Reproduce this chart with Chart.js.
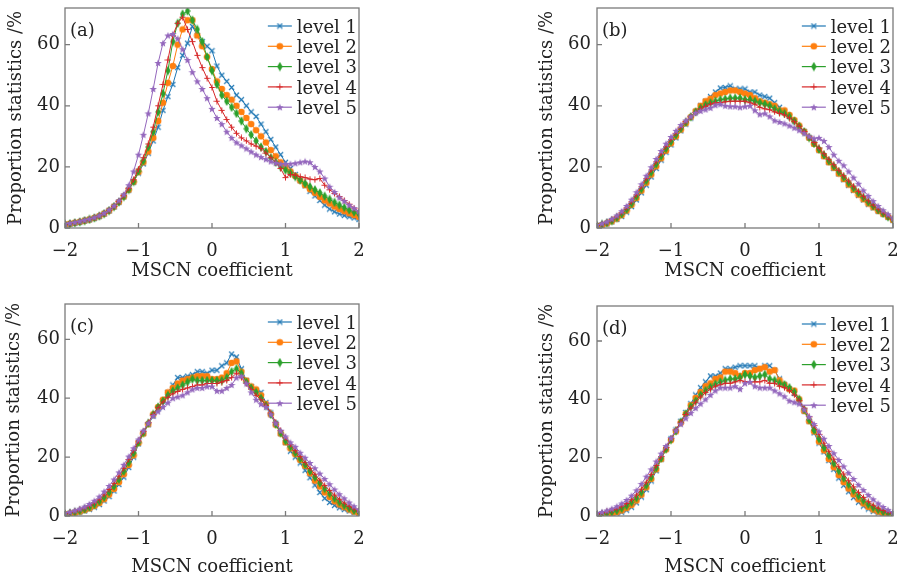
<!DOCTYPE html>
<html><head><meta charset="utf-8">
<script src="https://cdn.jsdelivr.net/npm/chart.js@4.4.1/dist/chart.umd.min.js"></script>
<style>
html,body{margin:0;padding:0;background:#fff;width:901px;height:581px;overflow:hidden}
canvas{position:absolute}
</style></head><body>
<canvas id="ca" width="370" height="290" style="left:0;top:0"></canvas>
<canvas id="cb" width="371" height="290" style="left:530px;top:0"></canvas>
<canvas id="cc" width="370" height="291" style="left:0;top:290px"></canvas>
<canvas id="cd" width="371" height="291" style="left:530px;top:290px"></canvas>
<script>
// ---- data ----
const mscnCoefficient = [-2,-1.933,-1.867,-1.8,-1.733,-1.667,-1.6,-1.533,-1.467,-1.4,-1.333,-1.267,-1.2,-1.133,-1.067,-1,
 -0.933,-0.867,-0.8,-0.733,-0.667,-0.6,-0.533,-0.467,-0.4,-0.333,-0.267,-0.2,-0.133,-0.067,0,
 0.067,0.133,0.2,0.267,0.333,0.4,0.467,0.533,0.6,0.667,0.733,0.8,0.867,0.933,1,
 1.067,1.133,1.2,1.267,1.333,1.4,1.467,1.533,1.6,1.667,1.733,1.8,1.867,1.933,2];
const levelLabels = ['level 1','level 2','level 3','level 4','level 5'];
const panelLabels = ['(a)','(b)','(c)','(d)'];
const xTicks = [-2,-1,0,1,2];
const yTicks = [0,20,40,60];
const xTitle = 'MSCN coefficient';
const yTitle = 'Proportion statistics /%';

// panel (a)
const a_level1 = [1.1,1.3,1.6,1.9,2.3,2.7,3.2,3.8,4.6,5.6,6.9,8.4,10.2,12.4,15.0,18.0,
 21,24.5,28.5,33,38.5,43,47,52.5,56.5,60.5,66,63,61,59.5,58,
 53,50,48,46,43.5,42,40,38,36.5,34,31.5,29,26.5,24,21.5,
 19.5,17.5,15.5,13.8,12,10.5,9,7.5,6.2,5.3,4.6,4.1,3.7,3.3,2.8];
const a_level2 = [1.2,1.4,1.7,2.0,2.4,2.8,3.3,3.9,4.7,5.7,7.0,8.5,10.3,12.5,15.1,18.3,
 21.5,25,29.5,35,41,47.5,53,60,65,68,68,63,59.5,56,52,
 48,45.5,43.5,42,40,38,36,34,32,30,28,25.5,23.5,21.5,20,
 18.5,17,15.5,14,12.7,11.5,10.2,9,8,7,6.2,5.5,4.8,4.2,3.6];
const a_level3 = [1.2,1.4,1.7,2.0,2.4,2.8,3.3,3.9,4.7,5.7,7.0,8.5,10.3,12.6,15.2,18.6,
 22,26.5,31.5,38,44,51.5,61,67,70,71,68,65,61,56,51.5,
 47,43.5,41.5,39.5,37.5,35,32.5,30.5,28.5,26.5,25,23,21.5,20,19,
 18,16.8,15.7,14.6,13.5,12.5,11.5,10.4,9.4,8.4,7.5,6.7,5.9,5.2,4.6];
const a_level4 = [1.3,1.5,1.8,2.1,2.5,2.9,3.4,4.0,4.8,5.8,7.1,8.7,10.6,13.0,15.8,19.3,
 23,27.5,33,40,47,55,63,67,69,65,61,56.5,52.5,49,46,
 41.5,38.5,35.5,33,31,29.5,28.5,27.5,26.8,26,24.5,23,21.5,19.5,16.5,
 17.5,17.3,16.8,16.5,16,15.8,16.2,14,12.5,11.3,10.3,9,7.8,6.5,5.4];
const a_level5 = [1.4,1.6,1.9,2.2,2.6,3.0,3.5,4.1,4.9,6.0,7.3,9.0,11.0,14.0,18.5,24.0,
 30.5,37.5,45.5,54,60.5,63,63.5,62,58.5,55,51,48,45.5,42.5,39,
 36,34,31.5,29.5,28,27,26,25,24,23.2,22.5,21.8,21.3,21,21,
 21,21.2,21.5,21.8,21.5,20,18.5,16.2,13.5,11.8,10,8.8,7.5,6.5,5.5];

// panel (b)
const b_level1 = [0.6,0.9,1.3,2.0,2.8,3.8,5.2,7.0,9.2,11.5,14.0,16.7,19.5,22.2,24.8,27.2,
 29.5,31.8,34,36,38,40,41.5,43,44.5,45.8,46,46.5,45.5,45.5,45.5,
 44.5,44.5,43.5,43,42.5,41,39.5,38,36.5,35,33,31.5,29.5,27.5,25.5,
 23.5,21.5,19.5,17.7,15.8,14,12.3,10.7,9.2,7.8,6.6,5.5,4.5,3.5,2.5];
const b_level2 = [0.7,1.0,1.5,2.2,3.1,4.2,5.7,7.6,9.8,12.2,14.8,17.5,20.2,22.8,25.3,27.7,
 30,32.2,34.3,36.3,38.2,40,41.5,42.3,43.5,44,44.5,45,45,44.5,44,
 43.5,42.5,41.5,41,40.5,40,38.5,38.5,37,35.3,33.5,31.5,29.5,27.5,25.5,
 23.5,21.5,19.7,17.8,16,14.2,12.5,10.9,9.4,8,6.8,5.6,4.6,3.6,2.6];
const b_level3 = [0.8,1.2,1.7,2.4,3.4,4.6,6.1,8.0,10.3,12.8,15.5,18.2,20.9,23.5,26,28.3,
 30.5,32.6,34.6,36.4,38,39.3,40.3,41,41.5,42,42.2,42.5,42.5,42.5,42,
 42,41.5,41,40.5,40,39,38.2,37.5,36.5,35,33.3,31.5,29.6,27.7,25.8,
 23.9,22,20.2,18.4,16.6,14.8,13.1,11.5,10,8.5,7.2,5.9,4.8,3.7,2.7];
const b_level4 = [0.9,1.3,1.9,2.7,3.7,5.0,6.6,8.6,10.9,13.5,16.2,19,21.7,24.3,26.7,29,
 31,33,34.8,36.4,37.8,39,39.8,40.5,41,41,41.3,41.5,41.5,41.5,41.5,
 41,40.5,39.5,39,38.7,38,37.5,37,36,34.8,33.3,31.6,29.8,28,26.2,
 24.3,22.5,20.7,18.9,17.1,15.4,13.7,12,10.4,8.9,7.5,6.2,5,3.9,2.8];
const b_level5 = [1.0,1.5,2.1,3.0,4.1,5.5,7.2,9.3,11.7,14.3,17.1,19.9,22.6,25.2,27.6,29.8,
 31.8,33.7,35.2,36.5,37.7,38.3,38.8,39.3,40.2,40.5,40,39.8,39.8,39.5,39.8,
 40,38.5,37.2,37.5,36.5,35.2,34.7,34.2,33.5,32.8,32,31,30,29.3,29.5,
 28.5,26.5,24,22,20.5,18.5,16.5,14.5,12.3,10.5,8.8,7.2,5.8,4.5,3.2];

// panel (c)
const c_level1 = [0.5,0.7,1.0,1.3,1.7,2.3,3.0,3.9,5.1,6.6,8.5,10.7,13.2,16.5,20,24.5,
 28,31,34,36.5,39,42,44.5,47,47,47.5,48,49,49,48.5,49.5,
 49.5,51,52,55,54,50,46,44,42.5,42,38.5,35,31.5,28,25,
 22,20,18,15.5,13,10.5,8,6,4.6,3.6,2.8,2.2,1.7,1.2,0.8];
const c_level2 = [0.6,0.8,1.1,1.5,2.0,2.6,3.4,4.4,5.7,7.3,9.2,11.5,14.2,17.3,20.6,24.8,
 28,31.2,34.5,37,39.5,42,43.5,45,46,46.5,47,47.5,47.5,47.5,46.5,
 46.5,47,48.5,52,52.5,49,46,44,43,41,38,34.5,31,28,25,
 23,21,19,17,14.5,12,10,8,6.4,5,3.9,3,2.2,1.5,1.0];
const c_level3 = [0.7,1.0,1.3,1.8,2.3,3.0,3.9,5.0,6.4,8.1,10.1,12.5,15.2,18.2,21.4,25,
 28.3,31.5,34.5,37,39,41,42.5,43.5,44.5,45.5,46.5,46,46,46,46,
 46,46,47,49,50,48.5,45.5,43.5,42,40,37.5,34.5,31.2,28.2,25.5,
 23.5,21.5,19.5,17.5,15.3,13.2,11.2,9.3,7.6,6,4.7,3.6,2.7,1.9,1.3];
const c_level4 = [0.9,1.2,1.6,2.1,2.7,3.5,4.5,5.7,7.2,9.0,11.1,13.5,16.2,19.2,22.3,25.5,
 28.7,31.7,34.5,36.8,38.7,40.3,41.5,42.3,43,43.5,44,44.5,44.5,45,45,
 45,45.5,46,47,48.5,47,45,43,41,39.5,37.5,35,31.8,29,26.5,
 24.3,22.2,20.2,18.2,16.2,14.2,12.2,10.4,8.7,7.1,5.7,4.4,3.3,2.4,1.6];
const c_level5 = [1.0,1.4,1.9,2.5,3.2,4.1,5.2,6.6,8.3,10.2,12.4,14.8,17.4,20.2,23,26,
 29,31.5,34,35.5,37,38.5,40,40.5,41,42,43,43.5,43.5,44,44,
 42.5,42.5,43.5,44.5,47,47.5,45,42,39.5,38,37,34.5,31.5,29,27,
 25,23.5,21.5,19.8,18,16.2,14.4,12.6,10.8,9,7.4,6,4.6,3.3,2.1];

// panel (d)
const d_level1 = [0.2,0.3,0.4,0.6,0.9,1.3,2.0,3.0,4.5,6.5,9.0,12.0,15.5,19.5,23,26.5,
 29.5,32.5,35.5,38.5,41.5,44,46,48,48,49,50.5,50.5,51,51.5,51.5,
 51.5,51.5,50.5,51.5,51.5,50,47,45,43.5,42,39,36,32.5,28.5,25,
 22,19,16,13,10.5,8.3,6.3,4.7,3.4,2.4,1.6,1.0,0.6,0.4,0.2];
const d_level2 = [0.3,0.4,0.6,0.9,1.3,1.9,2.7,3.8,5.3,7.3,9.8,12.7,16,19.5,22.8,26,
 29,32,35,38,40.5,42.5,44.5,45.5,47,47.5,49.5,49.5,49,48,49,
 49,50,50.5,51,49.5,50,46.5,45,43.5,43,40,36,32.5,29,25.5,
 22.5,19.5,16.7,14,11.6,9.4,7.4,5.7,4.3,3.1,2.2,1.5,1.0,0.6,0.4];
const d_level3 = [0.5,0.7,1.0,1.4,1.9,2.6,3.5,4.7,6.2,8.1,10.5,13.3,16.5,19.8,23,26.2,
 29.2,32.2,35,37.5,39.5,41.5,43,44.2,45.2,46,46.5,47,47,47.5,48.5,
 48,47.5,48,48.5,47,46.5,45.5,45,44,42.5,40,36.5,33,29.5,26.5,
 23.5,20.8,18.1,15.5,13,10.8,8.7,6.9,5.3,4,2.9,2.1,1.4,0.9,0.6];
const d_level4 = [0.7,1.0,1.4,1.9,2.5,3.3,4.3,5.6,7.2,9.2,11.6,14.3,17.3,20.4,23.5,26.5,
 29.5,32.2,34.8,37,39,40.8,42.3,43.5,44.5,45,45.5,45.5,46,46.5,46,
 46,46,46,46.5,45.5,45.5,44.5,44,43,41.5,39.5,37,34,31,28,
 25,22.2,19.5,16.9,14.4,12.1,10,8.1,6.4,4.9,3.7,2.7,1.9,1.3,0.9];
const d_level5 = [1.0,1.4,1.9,2.5,3.3,4.3,5.5,7.0,8.8,11,13.5,16,18.7,21.4,24,26.7,
 29.3,31.5,33.5,35.3,37,38.5,40,41.5,43,44,44,44,44.5,43.5,45.5,
 46,44.5,44,44,44,43,42,41,39.5,39,38.5,36.5,34,31.5,29,
 26.5,24,21.5,19.2,17,14.8,12.7,10.7,8.9,7.2,5.7,4.3,3.1,2.1,1.3];

// ---- styling ----
const colors = ['#1f77b4','#ff7f0e','#2ca02c','#d62728','#9467bd'];
const FONT = "'DejaVu Serif', serif";
const FS = 18;
Chart.defaults.font.family = FONT;
Chart.defaults.font.size = FS;
Chart.defaults.color = '#222';

function makeMarker(kind, color){
  const c = document.createElement('canvas');
  const g = c.getContext('2d');
  if (kind === 'x'){ c.width=7;c.height=7; g.strokeStyle=color; g.lineWidth=1.1; g.beginPath(); g.moveTo(1,1); g.lineTo(6,6); g.moveTo(6,1); g.lineTo(1,6); g.stroke(); }
  else if (kind === 'circle'){ c.width=8;c.height=8; g.fillStyle=color; g.beginPath(); g.arc(4,4,3.3,0,Math.PI*2); g.fill(); }
  else if (kind === 'thin_diamond'){ c.width=6;c.height=10; g.fillStyle=color; g.beginPath(); g.moveTo(3,0.3); g.lineTo(5.7,5); g.lineTo(3,9.7); g.lineTo(0.3,5); g.closePath(); g.fill(); }
  else if (kind === 'plus'){ c.width=7;c.height=7; g.strokeStyle=color; g.lineWidth=1; g.beginPath(); g.moveTo(3.5,0.5); g.lineTo(3.5,6.5); g.moveTo(0.5,3.5); g.lineTo(6.5,3.5); g.stroke(); }
  else if (kind === 'star'){ c.width=8;c.height=8; g.fillStyle=color; g.beginPath();
    for (let k=0;k<10;k++){ const r = k%2===0 ? 3.9 : 1.7; const ang = -Math.PI/2 + k*Math.PI/5; const px=4+r*Math.cos(ang), py=4.3+r*Math.sin(ang); if(k===0) g.moveTo(px,py); else g.lineTo(px,py);} g.closePath(); g.fill(); }
  return c;
}
const markerKinds = ['x','circle','thin_diamond','plus','star'];
const markers = markerKinds.map((k,i)=>makeMarker(k, colors[i]));

const decor = {
  id: 'decor',
  afterDatasetsDraw(chart){
    const {ctx, chartArea:a, scales:{x, y}} = chart;
    const o = chart.options.plugins.decor;
    ctx.save();
    ctx.strokeStyle = '#7a7a7a';
    ctx.lineWidth = 1.3;
    ctx.strokeRect(a.left, a.top, a.right - a.left, a.bottom - a.top);
    ctx.beginPath();
    xTicks.forEach(v => { const px = x.getPixelForValue(v); ctx.moveTo(px, a.bottom); ctx.lineTo(px, a.bottom - 5); });
    yTicks.forEach(v => { const py = y.getPixelForValue(v); ctx.moveTo(a.left, py); ctx.lineTo(a.left + 5, py); });
    ctx.stroke();
    // panel label
    ctx.fillStyle = '#222';
    ctx.font = FS + 'px ' + FONT;
    ctx.textBaseline = 'middle';
    ctx.textAlign = 'left';
    ctx.fillText(o.label, a.left + 5, a.top + 23);
    // legend
    const rowH = 20.3;
    chart.data.datasets.forEach((ds, i) => {
      const cy = a.top + 18 + i * rowH;
      const tw = ctx.measureText(ds.label).width;
      const tx = a.right - 2 - tw;
      const lx1 = tx - 5, lx0 = lx1 - 24;
      ctx.strokeStyle = ds.borderColor;
      ctx.lineWidth = 1.2;
      ctx.beginPath(); ctx.moveTo(lx0, cy); ctx.lineTo(lx1, cy); ctx.stroke();
      const m = ds.pointStyle;
      ctx.drawImage(m, (lx0 + lx1) / 2 - m.width / 2, cy - m.height / 2);
      ctx.fillStyle = '#222';
      ctx.fillText(ds.label, tx, cy + 2);
    });
    ctx.restore();
  }
};

function fmtTick(v){ return v < 0 ? '\u2212' + Math.abs(v) : String(v); }

function makePanel(canvasId, label, series, geo){
  const datasets = series.map((vals, i) => ({
    label: levelLabels[i],
    data: mscnCoefficient.map((xv, j) => ({x: xv, y: vals[j]})),
    borderColor: colors[i],
    backgroundColor: colors[i],
    borderWidth: 1,
    pointStyle: markers[i],
    pointRadius: 3,
    pointHoverRadius: 3,
    tension: 0,
    order: 5 - i
  }));
  new Chart(document.getElementById(canvasId), {
    type: 'line',
    data: { datasets },
    plugins: [decor],
    options: {
      responsive: false,
      devicePixelRatio: 1,
      animation: false,
      events: [],
      layout: { padding: { top: geo.padTop, right: geo.padRight, left: 0, bottom: 0 } },
      plugins: { legend: { display: false }, tooltip: { enabled: false }, decor: { label } },
      scales: {
        x: {
          type: 'linear', min: -2, max: 2,
          grid: { display: false, drawTicks: false },
          border: { display: false },
          afterBuildTicks: s => { s.ticks = xTicks.map(v => ({value: v})); },
          afterFit: s => { s.height = geo.xH; s.paddingLeft = 0; s.paddingRight = 0; s.paddingTop = 0; s.paddingBottom = 0; },
          ticks: { autoSkip: false, maxRotation: 0, padding: 13, callback: fmtTick, color: '#222' },
          title: { display: true, text: xTitle, color: '#222', padding: { top: 0, bottom: geo.xTitlePad } }
        },
        y: {
          type: 'linear', min: 0, max: 72,
          grid: { display: false, drawTicks: false },
          border: { display: false },
          afterBuildTicks: s => { s.ticks = yTicks.map(v => ({value: v})); },
          afterFit: s => { s.width = geo.yW; s.paddingLeft = 0; s.paddingRight = 0; s.paddingTop = 0; s.paddingBottom = 0; },
          ticks: { padding: geo.yTickPad, callback: fmtTick, color: '#222' },
          title: { display: true, text: yTitle, color: '#222', padding: { top: geo.yTitlePad, bottom: 0 } }
        }
      }
    }
  });
}

makePanel('ca', panelLabels[0], [a_level1,a_level2,a_level3,a_level4,a_level5], {padTop:8, padRight:11, yW:65, xH:62, xTitlePad:8, yTitlePad:6, yTickPad:5});
makePanel('cb', panelLabels[1], [b_level1,b_level2,b_level3,b_level4,b_level5], {padTop:8, padRight:8, yW:67, xH:62, xTitlePad:8, yTitlePad:7, yTickPad:6});
makePanel('cc', panelLabels[2], [c_level1,c_level2,c_level3,c_level4,c_level5], {padTop:14, padRight:11, yW:65, xH:65, xTitlePad:3, yTitlePad:4, yTickPad:5});
makePanel('cd', panelLabels[3], [d_level1,d_level2,d_level3,d_level4,d_level5], {padTop:16, padRight:8, yW:67, xH:65, xTitlePad:3, yTitlePad:7, yTickPad:6});
</script>
</body></html>
